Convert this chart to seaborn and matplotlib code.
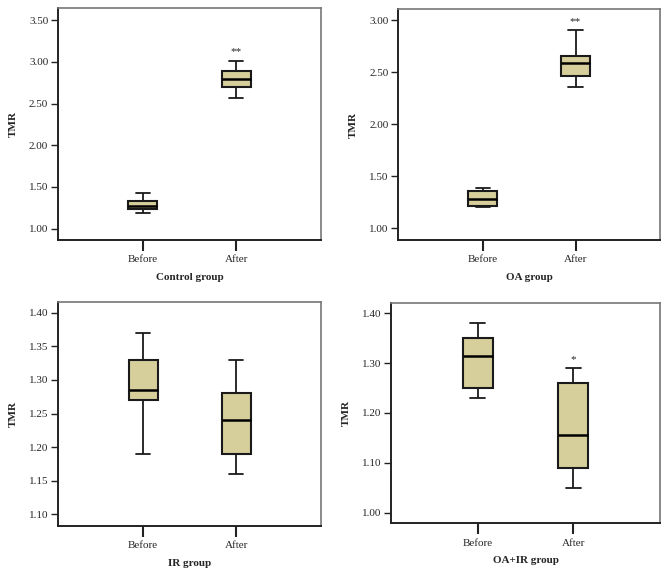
import numpy as np
import pandas as pd
import matplotlib
matplotlib.use("Agg")
import matplotlib.pyplot as plt
import seaborn as sns

sns.set_style("white")
plt.rcParams["font.family"] = ["Liberation Serif", "DejaVu Serif"]

# five-number summaries per group: (min, Q1, median, Q3, max)
TIMES = ["Before", "After"]
GROUPS = ["Control group", "OA group", "IR group", "OA+IR group"]

control_before = [1.184, 1.236, 1.276, 1.336, 1.424]
control_after = [2.564, 2.692, 2.792, 2.884, 3.012]
oa_before = [1.205, 1.215, 1.282, 1.359, 1.388]
oa_after = [2.359, 2.465, 2.590, 2.657, 2.907]
ir_before = [1.19, 1.27, 1.285, 1.33, 1.37]
ir_after = [1.16, 1.19, 1.24, 1.28, 1.33]
oair_before = [1.23, 1.25, 1.315, 1.35, 1.381]
oair_after = [1.05, 1.09, 1.155, 1.26, 1.29]

SUMMARIES = [
    (control_before, control_after),
    (oa_before, oa_after),
    (ir_before, ir_after),
    (oair_before, oair_after),
]
SIG_MARKS = ["**", "**", "", "*"]

Y_TICKS = [
    [1.00, 1.50, 2.00, 2.50, 3.00, 3.50],
    [1.00, 1.50, 2.00, 2.50, 3.00],
    [1.10, 1.15, 1.20, 1.25, 1.30, 1.35, 1.40],
    [1.00, 1.10, 1.20, 1.30, 1.40],
]
Y_LIMS = [(0.865, 3.644), (0.888, 3.106), (1.0826, 1.4164), (0.979, 1.421)]
SIG_OFFSET = [0.05, 0.04, 0.0, 0.008]

# axes rectangles in figure fractions
RECTS = [
    [0.0867, 0.5826, 0.3933, 0.4035],
    [0.5954, 0.5826, 0.3911, 0.4012],
    [0.0872, 0.0852, 0.3927, 0.3901],
    [0.5845, 0.0899, 0.4021, 0.3837],
]

BOX_COLOR = "#d6cf9c"

fig = plt.figure(figsize=(6.69, 5.75), dpi=100)

for i, group in enumerate(GROUPS):
    ax = fig.add_axes(RECTS[i])
    before, after = SUMMARIES[i]
    df = pd.DataFrame({
        "time": ["Before"] * len(before) + ["After"] * len(after),
        "TMR": before + after,
    })
    sns.boxplot(data=df, x="time", y="TMR", order=TIMES, ax=ax,
                whis=(0, 100), width=0.31, color=BOX_COLOR, saturation=1,
                linecolor="#1a1a1a", linewidth=1.3, showfliers=False,
                medianprops={"linewidth": 1.8, "color": "black"},
                boxprops={"linewidth": 1.5})

    ax.set_xlim(-0.91, 1.91)
    ax.set_ylim(*Y_LIMS[i])
    ax.set_yticks(Y_TICKS[i])
    ax.set_yticklabels([f"{v:.2f}" for v in Y_TICKS[i]], fontsize=8)
    ax.set_xticks([0, 1])
    ax.set_xticklabels(TIMES, fontsize=8)
    ax.tick_params(axis="y", direction="out", length=5, width=1, color="#222222",
                   left=True, pad=2)
    ax.tick_params(axis="x", direction="out", length=8, width=1.5, color="#222222",
                   bottom=True, pad=3)
    ax.set_ylabel("TMR", fontsize=8, fontweight="bold", labelpad=8)
    ax.set_xlabel(group, fontsize=8, fontweight="bold", labelpad=6)

    for side in ["left", "bottom"]:
        ax.spines[side].set_color("#222222")
        ax.spines[side].set_linewidth(1.4)
    for side in ["top", "right"]:
        ax.spines[side].set_color("#777777")
        ax.spines[side].set_linewidth(1.2)

    if SIG_MARKS[i]:
        ax.text(1, after[-1] + SIG_OFFSET[i], SIG_MARKS[i], ha="center",
                va="bottom", fontsize=8)

fig.savefig("out.png", dpi=100)
